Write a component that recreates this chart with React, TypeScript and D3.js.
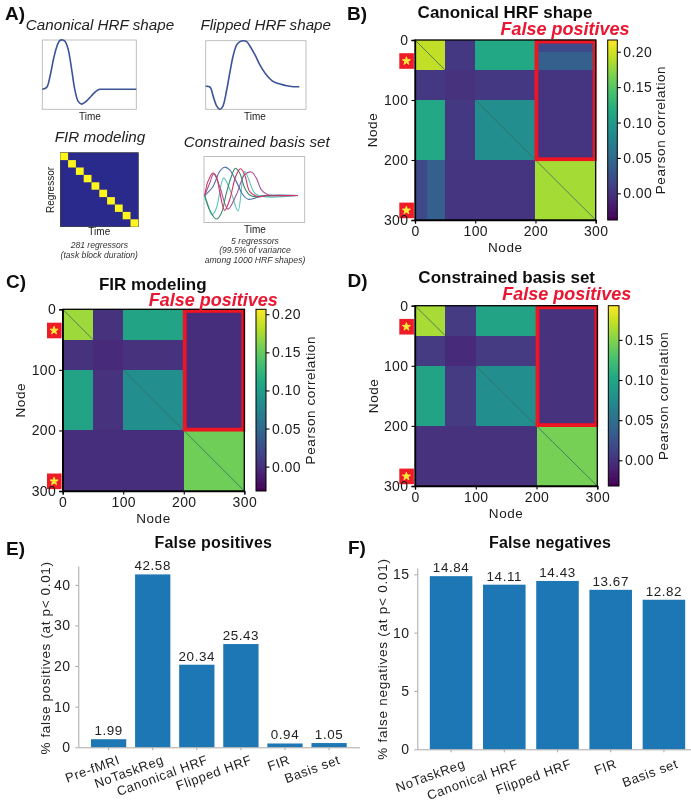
import React, { useEffect, useRef } from 'react';
import * as d3 from 'd3';

// panel A curves, [time, amplitude]
const canonicalHrf = [[0,0],[1.4,.04],[2.45,.26],[3.5,.59],[4.6,.86],[5.6,.99],[6.5,1],[7.3,.97],[8.3,.8],[9.4,.39],[10.4,-.01],[11.5,-.25],[12.6,-.3],[13.9,-.25],[15.7,-.13],[17.3,-.03],[18.4,0],[20.5,0],[30,0]];
const flippedHrf = [[0,.01],[1.3,-.01],[2.3,-.22],[3.3,-.42],[4.3,-.49],[5.1,-.43],[6.3,-.07],[7.3,.33],[8.3,.69],[9.3,.91],[10.3,.98],[11.3,1],[12.3,.98],[13.3,.88],[14.8,.69],[16.3,.47],[18.3,.25],[20.3,.11],[22.3,.06],[24.3,.02],[26.3,0],[28.1,0]];
const basisBlue = [[.2,0],[2.7,.34],[4.7,.9],[6.2,1.06],[7.7,.96],[9.7,.52],[11.7,.02],[13.2,-.14],[15.2,-.1],[17.7,-.01],[28.2,0]];
const basisGreen = [[.2,0],[1.7,-.54],[3.7,-.88],[5.2,-.66],[6.7,.09],[8.2,.71],[9.4,1.02],[10.7,.84],[12.2,.28],[13.7,.02],[15.7,-.05],[18.7,-.01],[28.2,0]];
const basisTeal = [[.2,0],[1.2,-.35],[2.4,-.73],[3.7,-.48],[5.9,.65],[8.2,.09],[10.2,-.58],[12.2,.9],[15.2,.09],[17.7,-.04],[28.2,0]];
const basisRed = [[.2,0],[1.2,.53],[2.7,.84],[3.7,.71],[4.7,.15],[6.2,-.56],[7.7,-.16],[9.5,.71],[10.9,1],[12.2,.78],[13.7,.15],[16.2,-.04],[18.7,-.01],[28.2,0]];
const basisPurple = [[.2,0],[1.7,.46],[2.9,.81],[4.7,.34],[7.2,-.51],[9.7,.03],[12.2,.78],[14.2,.88],[15.7,.65],[17.2,.21],[19.2,.03],[21.7,-.01],[28.2,0]];
const firRegressors = [0,1,2,3,4,5,6,7,8,9];

// block correlation matrices, edges in node index
const edgesB = [0,20,50,100,200,300];
const matrixB = [
  [.192,.192,.005,.115,.018],
  [.192,.192,.005,.115,.04],
  [.005,.005,-.002,.005,.002],
  [.115,.115,.005,.087,.002],
  [.018,.04,.002,.002,.182],
];
const edgesC = [0,50,100,200,300];
const matrixC = [
  [.172,.002,.106,-.001],
  [.002,-.003,.002,-.001],
  [.106,.002,.085,-.001],
  [-.001,-.001,-.001,.154],
];
const edgesD = [0,50,100,200,300];
const matrixD = [
  [.163,.006,.098,-.001],
  [.006,-.004,.006,-.001],
  [.098,.006,.078,-.001],
  [-.001,-.001,-.001,.146],
];
const nodeTicks = [0,100,200,300];
const markerNodes = [35,284];
const diagonalRuns = [[0,50],[100,300]];

// bar panels
const fpLabels = ['Pre-fMRI','NoTaskReg','Canonical HRF','Flipped HRF','FIR','Basis set'];
const fpValues = [1.99,42.58,20.34,25.43,.94,1.05];
const fnLabels = ['NoTaskReg','Canonical HRF','Flipped HRF','FIR','Basis set'];
const fnValues = [14.84,14.11,14.43,13.67,12.82];

const SANS = '"Liberation Sans", Arial, sans-serif';

const App = () => {
  const ref = useRef<SVGSVGElement>(null);

  useEffect(() => {
    const svg = d3.select(ref.current);
    svg.selectAll('*').remove();
    const defs = svg.append('defs');
    defs.append('filter').attr('id', 'soft').attr('x', 0).attr('y', 0).attr('width', 1).attr('height', 1)
      .append('feGaussianBlur').attr('stdDeviation', 0.45);
    const root = svg.append('g').attr('filter', 'url(#soft)').attr('font-family', SANS);
    root.append('rect').attr('width', 691).attr('height', 808).attr('fill', '#fff');

    const label = (x, y, s, size, o: any = {}) => {
      const t = root.append('text').attr('x', x).attr('y', y).text(s)
        .attr('font-size', size).attr('fill', o.fill || '#1a1a1a')
        .attr('text-anchor', o.anchor || 'middle');
      if (o.weight) t.attr('font-weight', o.weight);
      if (o.italic) t.attr('font-style', 'italic');
      if (o.spacing) t.attr('letter-spacing', o.spacing);
      if (o.rotate !== undefined) t.attr('transform', `rotate(${o.rotate},${x},${y})`);
      return t;
    };

    // panel letters
    [['A)',5,20],['B)',347,20],['C)',6,288],['D)',347.5,286.5],['E)',6,555],['F)',348,554]].forEach(([s,x,y]) =>
      label(x, y, s, 19, { anchor: 'start', weight: 'bold', fill: '#111' }));

    // --- panel A ---
    const curvePanel = (box, xDomain, yDomain, series) => {
      const x = d3.scaleLinear().domain(xDomain).range([box.x0, box.x1]);
      const y = d3.scaleLinear().domain(yDomain).range([box.y1, box.y0]);
      root.append('rect').attr('x', box.x0).attr('y', box.y0)
        .attr('width', box.x1 - box.x0).attr('height', box.y1 - box.y0)
        .attr('fill', '#fff').attr('stroke', '#b8b8b8').attr('stroke-width', 0.9);
      const line = d3.line().x(d => x(d[0])).y(d => y(d[1])).curve(d3.curveCatmullRom);
      series.forEach(s => {
        root.append('path').attr('d', line(s.data)).attr('fill', 'none')
          .attr('stroke', s.color).attr('stroke-width', s.width);
      });
    };
    curvePanel({ x0: 42.3, x1: 136.3, y0: 40, y1: 109.3 }, [0,30], [-.405,1.0],
      [{ data: canonicalHrf, color: '#3a5299', width: 1.6 }]);
    curvePanel({ x0: 205.7, x1: 306, y0: 40.7, y1: 109.3 }, [0,30.1], [-.49,1.0],
      [{ data: flippedHrf, color: '#3a5299', width: 1.6 }]);
    curvePanel({ x0: 204, x1: 304.7, y0: 156.5, y1: 222.5 }, [0,30.2], [-1.01,1.46], [
      { data: basisTeal, color: '#54c4ba', width: 1.1 },
      { data: basisPurple, color: '#a2589a', width: 1.1 },
      { data: basisBlue, color: '#4a6cb0', width: 1.1 },
      { data: basisGreen, color: '#38886e', width: 1.1 },
      { data: basisRed, color: '#cf3560', width: 1.1 },
    ]);

    const firX = d3.scaleBand().domain(firRegressors as any).range([60.3, 138.3]);
    const firY = d3.scaleBand().domain(firRegressors as any).range([152.7, 226.7]);
    root.append('rect').attr('x', 60.3).attr('y', 152.7).attr('width', 78).attr('height', 74)
      .attr('fill', '#2b2a8c').attr('stroke', '#222').attr('stroke-width', 0.6);
    root.selectAll('rect.fir').data(firRegressors).enter().append('rect').attr('class', 'fir')
      .attr('x', d => firX(d as any)).attr('y', d => firY(d as any))
      .attr('width', firX.bandwidth()).attr('height', firY.bandwidth()).attr('fill', '#fdf51e');

    const ital = { italic: true, fill: '#222' };
    label(100, 30, 'Canonical HRF shape', 15.2, ital);
    label(265.7, 30, 'Flipped HRF shape', 15.2, ital);
    label(100, 141.7, 'FIR modeling', 15.2, ital);
    label(256.7, 146.7, 'Constrained basis set', 15.2, ital);
    label(90, 120, 'Time', 10);
    label(255, 120, 'Time', 10);
    label(99.3, 235, 'Time', 10);
    label(255, 233, 'Time', 10);
    label(54, 190, 'Regressor', 10, { rotate: -90 });
    const note = { italic: true, fill: '#333' };
    label(99.3, 248.3, '281 regressors', 8.6, note);
    label(99.3, 257.5, '(task block duration)', 8.6, note);
    label(255, 244, '5 regressors', 8.6, note);
    label(255, 253.3, '(99.5% of variance', 8.6, note);
    label(255, 262.7, 'among 1000 HRF shapes)', 8.6, note);

    // --- heatmap panels ---
    const heatPanel = (p) => {
      const x = d3.scaleLinear().domain([0,300]).range([p.x0, p.x1]);
      const y = d3.scaleLinear().domain([0,300]).range([p.y0, p.y1]);
      const c = d3.scaleSequential(d3.interpolateViridis).domain(p.domain);
      p.matrix.forEach((row, i) => row.forEach((v, j) => {
        root.append('rect')
          .attr('x', x(p.edges[j])).attr('y', y(p.edges[i]))
          .attr('width', x(p.edges[j + 1]) - x(p.edges[j]))
          .attr('height', y(p.edges[i + 1]) - y(p.edges[i]))
          .attr('fill', c(v)).attr('shape-rendering', 'crispEdges');
      }));
      diagonalRuns.forEach(([a, b]) => {
        root.append('line').attr('x1', x(a)).attr('y1', y(a)).attr('x2', x(b)).attr('y2', y(b))
          .attr('stroke', '#3a6a62').attr('stroke-width', 0.8);
      });
      // false positives box
      root.append('rect').attr('x', x(200) + 1).attr('y', y(0) + 1.6)
        .attr('width', x(300) - x(200) - 2).attr('height', y(200) - y(0) - 2.4)
        .attr('fill', 'none').attr('stroke', '#ee1520').attr('stroke-width', 3.8);
      // node markers
      markerNodes.forEach(n => {
        root.append('rect').attr('x', p.x0 - 15.7).attr('y', y(n) - 7.8)
          .attr('width', 14.6).attr('height', 15.6).attr('fill', '#ee1c25');
        root.append('path').attr('d', d3.symbol().type(d3.symbolStar).size(20)())
          .attr('transform', `translate(${p.x0 - 8.6},${y(n)})`).attr('fill', '#f8ec3c')
          .attr('stroke', '#f8ec3c').attr('stroke-width', 1).attr('stroke-linejoin', 'round');
      });

      const xAxis = root.append('g').attr('transform', `translate(0,${p.y1})`)
        .call(d3.axisBottom(x).tickValues(nodeTicks).tickSize(3.5).tickPadding(3));
      const yAxis = root.append('g').attr('transform', `translate(${p.x0},0)`)
        .call(d3.axisLeft(y).tickValues(nodeTicks).tickSize(3.5).tickPadding(3));
      [xAxis, yAxis].forEach(a => {
        a.attr('font-family', SANS).attr('font-size', 14);
        a.selectAll('text').attr('fill', '#1a1a1a').attr('letter-spacing', 0.4);
        a.selectAll('line').attr('stroke', '#000').attr('stroke-width', 1.1);
        a.select('.domain').attr('stroke', '#000').attr('stroke-width', 1.3);
      });
      root.append('rect').attr('x', p.x0).attr('y', p.y0).attr('width', p.x1 - p.x0)
        .attr('height', p.y1 - p.y0).attr('fill', 'none').attr('stroke', '#000').attr('stroke-width', 1.3);

      // colorbar
      const cy = d3.scaleLinear().domain(p.domain).range([p.y1, p.y0]);
      const gid = `cb${p.id}`;
      const grad = defs.append('linearGradient').attr('id', gid)
        .attr('x1', 0).attr('x2', 0).attr('y1', 1).attr('y2', 0);
      d3.range(0, 1.01, 0.1).forEach(t => {
        grad.append('stop').attr('offset', t).attr('stop-color', d3.interpolateViridis(t));
      });
      root.append('rect').attr('x', p.cb0).attr('y', p.y0).attr('width', p.cb1 - p.cb0)
        .attr('height', p.y1 - p.y0).attr('fill', `url(#${gid})`).attr('stroke', '#000').attr('stroke-width', 1);
      const cAxis = root.append('g').attr('transform', `translate(${p.cb1},0)`)
        .call(d3.axisRight(cy).tickValues(p.cbTicks).tickFormat(d3.format('.2f')).tickSize(3.5).tickPadding(2.5));
      cAxis.attr('font-family', SANS).attr('font-size', 14);
      cAxis.select('.domain').remove();
      cAxis.selectAll('text').attr('fill', '#1a1a1a').attr('letter-spacing', 0.4);
      cAxis.selectAll('line').attr('stroke', '#000').attr('stroke-width', 1.1);

      label(p.titleX, p.titleY, p.title, 17, { weight: 'bold', fill: '#111' });
      label(p.fpX, p.fpY, 'False positives', 18, { weight: 'bold', italic: true, fill: '#ea1530' });
      label((p.x0 + p.x1) / 2, p.y1 + 31.5, 'Node', 13.5, { spacing: 0.6 });
      label(p.nodeX, (p.y0 + p.y1) / 2, 'Node', 13.5, { rotate: -90, spacing: 0.6 });
      label(p.pearX, (p.y0 + p.y1) / 2, 'Pearson correlation', 13.5, { rotate: -90, spacing: 0.6 });
    };
    heatPanel({ id: 'B', x0: 415, x1: 595.7, y0: 40, y1: 220, cb0: 607.7, cb1: 617.3,
      domain: [-.0377,.2166], cbTicks: [0,.05,.1,.15,.2], edges: edgesB, matrix: matrixB,
      title: 'Canonical HRF shape', titleX: 505, titleY: 18.3, fpX: 565, fpY: 35, nodeX: 377.3, pearX: 665 });
    heatPanel({ id: 'C', x0: 62.7, x1: 244.3, y0: 309.3, y1: 491, cb0: 256, cb1: 266,
      domain: [-.032,.2065], cbTicks: [0,.05,.1,.15,.2], edges: edgesC, matrix: matrixC,
      title: 'FIR modeling', titleX: 152.8, titleY: 290, fpX: 213.3, fpY: 305.7, nodeX: 25, pearX: 315 });
    heatPanel({ id: 'D', x0: 415, x1: 597.3, y0: 305.7, y1: 486, cb0: 608.3, cb1: 619,
      domain: [-.032,.1926], cbTicks: [0,.05,.1,.15], edges: edgesD, matrix: matrixD,
      title: 'Constrained basis set', titleX: 506.7, titleY: 283.3, fpX: 566.7, fpY: 300, nodeX: 378.3, pearX: 668.3 });

    // --- bar panels ---
    const barPanel = (p) => {
      const x = d3.scaleBand().domain(p.labels).range([p.x0, p.x1]).paddingInner(0.2).paddingOuter(p.outer);
      const y = d3.scaleLinear().domain([0, p.yMax]).range([p.y0, p.yTop]);
      root.selectAll(null).data(p.values).enter().append('rect')
        .attr('x', (d, i) => x(p.labels[i])).attr('y', d => y(d as number))
        .attr('width', x.bandwidth()).attr('height', d => p.y0 - y(d as number))
        .attr('fill', '#1f77b4');
      const xAxis = root.append('g').attr('transform', `translate(0,${p.y0})`)
        .call(d3.axisBottom(x).tickSize(3).tickSizeOuter(0).tickFormat(() => ''));
      const yAxis = root.append('g').attr('transform', `translate(${p.x0},0)`)
        .call(d3.axisLeft(y).tickValues(p.ticks).tickSize(3).tickSizeOuter(0).tickPadding(5));
      [xAxis, yAxis].forEach(a => {
        a.attr('font-family', SANS).attr('font-size', 14);
        a.selectAll('text').attr('fill', '#222').attr('letter-spacing', 0.3);
        a.selectAll('line').attr('stroke', '#a8a8a8');
        a.select('.domain').attr('stroke', '#a8a8a8');
      });
      p.values.forEach((v, i) => {
        const cx = x(p.labels[i]) + x.bandwidth() / 2;
        label(cx, y(v) - 4, d3.format('.2f')(v), 13.4, { spacing: 0.6, fill: '#222' });
        const nudge = p.labels[i] === 'FIR' ? p.firNudge : 0;
        const lx = cx + p.labelDx + nudge, ly = p.y0 + p.labelDy;
        label(lx, ly, p.labels[i], 13, { anchor: 'end', rotate: -20, spacing: 0.6, fill: '#222' });
      });
      label(p.titleX, 548.3, p.title, 16, { fill: '#111', weight: 'bold', spacing: 0.2 });
      label(p.ylabX, p.ylabY, p.ylab, 13.5, { rotate: -90, spacing: p.ylabSpacing, fill: '#222' });
    };
    barPanel({ labels: fpLabels, values: fpValues, x0: 78.3, x1: 359.4, outer: 0.2875, y0: 747.3, yTop: 566, yMax: 44.65,
      ticks: [0,10,20,30,40], title: 'False positives', titleX: 213.3, ylab: '% false positives (at p< 0.01)',
      ylabX: 50, ylabY: 658, labelDx: 12, labelDy: 16, firNudge: -6, ylabSpacing: 0.65 });
    barPanel({ labels: fnLabels, values: fnValues, x0: 417.3, x1: 697.7, outer: 0.235, y0: 749.3, yTop: 568, yMax: 15.54,
      ticks: [0,5,10,15], title: 'False negatives', titleX: 550, ylab: '% false negatives (at p< 0.01)',
      ylabX: 386.7, ylabY: 659, labelDx: 15, labelDy: 18, firNudge: -8, ylabSpacing: 0.75 });
  }, []);

  return <svg ref={ref} width={691} height={808} style={{ position: 'absolute', left: 0, top: 0 }} />;
};

export default App;
